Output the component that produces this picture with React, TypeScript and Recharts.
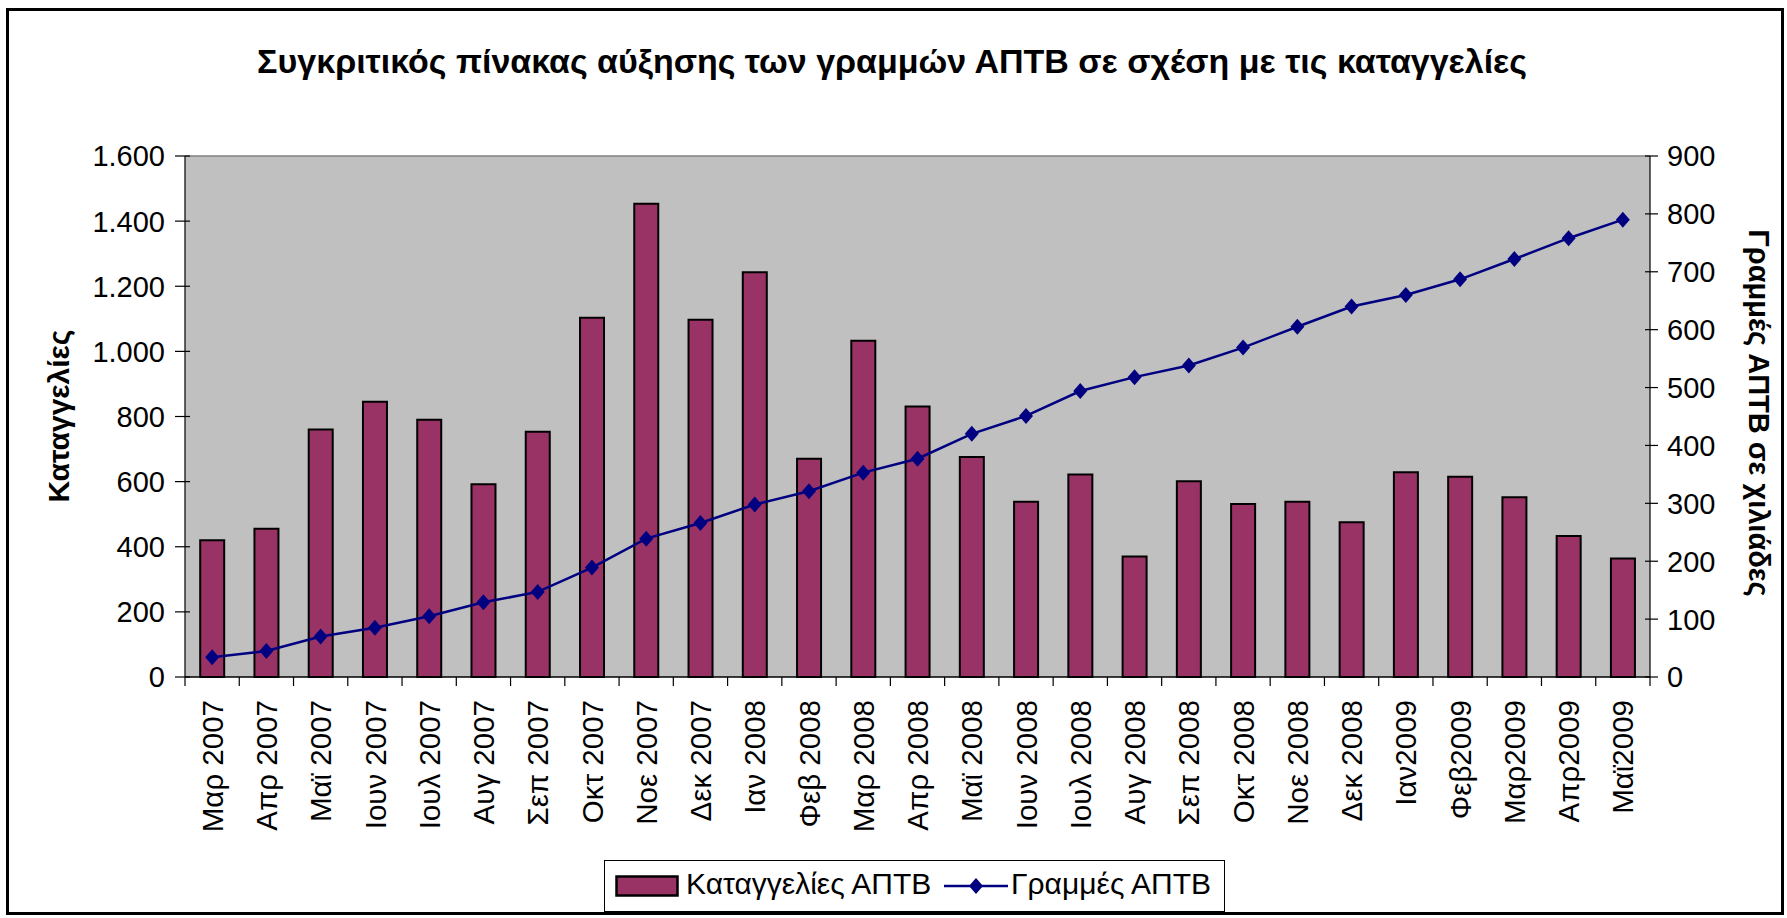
import React from 'react';
import { ComposedChart, Bar, Line, XAxis, YAxis, CartesianGrid, ReferenceLine } from 'recharts';

const months = [
  'Μαρ 2007', 'Απρ 2007', 'Μαϊ 2007', 'Ιουν 2007', 'Ιουλ 2007', 'Αυγ 2007', 'Σεπ 2007',
  'Οκτ 2007', 'Νοε 2007', 'Δεκ 2007', 'Ιαν 2008', 'Φεβ 2008', 'Μαρ 2008', 'Απρ 2008',
  'Μαϊ 2008', 'Ιουν 2008', 'Ιουλ 2008', 'Αυγ 2008', 'Σεπ 2008', 'Οκτ 2008', 'Νοε 2008',
  'Δεκ 2008', 'Ιαν2009', 'Φεβ2009', 'Μαρ2009', 'Απρ2009', 'Μαϊ2009',
];

// Καταγγελίες ΑΠΤΒ (left axis)
const complaints = [
  420, 455, 760, 845, 790, 592, 753, 1103, 1453, 1097, 1243, 670, 1033, 831,
  676, 538, 622, 370, 601, 531, 538, 475, 629, 615, 552, 433, 364,
];

// Γραμμές ΑΠΤΒ σε χιλιάδες (right axis)
const lines = [
  34, 45, 70, 85, 105, 129, 147, 189, 239, 266, 298, 321, 353, 377,
  420, 451, 494, 518, 538, 569, 605, 640, 660, 687, 722, 758, 790,
];

const leftTicks = [0, 200, 400, 600, 800, 1000, 1200, 1400, 1600];
const rightTicks = [0, 100, 200, 300, 400, 500, 600, 700, 800, 900];

const W = 1787;
const H = 918;
const PLOT_L = 185;
const PLOT_R = 1650;
const PLOT_T = 156;
const PLOT_B = 677;
const FONT = '"Liberation Sans", Arial, sans-serif';
const BAR_COLOR = '#993366';
const LINE_COLOR = '#000080';

const data = months.map((m, i) => ({ month: m, complaints: complaints[i], lines: lines[i] }));

const fmtThousands = (v: number) => v.toString().replace(/\B(?=(\d{3})+(?!\d))/g, '.');

const LeftTick = (props: any) => {
  const { y, payload } = props;
  return (
    <g>
      <line x1={PLOT_L - 10} x2={PLOT_L + 5} y1={y} y2={y} stroke="#000" strokeWidth={1.2} />
      <text x={PLOT_L - 20} y={y} dy="0.36em" textAnchor="end" fontSize={29} fontFamily={FONT} fill="#000">
        {fmtThousands(payload.value)}
      </text>
    </g>
  );
};

const RightTick = (props: any) => {
  const { y, payload } = props;
  return (
    <g>
      <line x1={PLOT_R - 5} x2={PLOT_R + 8} y1={y} y2={y} stroke="#000" strokeWidth={1.2} />
      <text x={PLOT_R + 17} y={y} dy="0.36em" textAnchor="start" fontSize={29} fontFamily={FONT} fill="#000">
        {payload.value}
      </text>
    </g>
  );
};

const MonthTick = (props: any) => {
  const { x, payload, index } = props;
  const half = (PLOT_R - PLOT_L) / months.length / 2;
  const ty = PLOT_B + 23;
  return (
    <g>
      <line x1={x - half} x2={x - half} y1={PLOT_B} y2={PLOT_B + 9} stroke="#000" strokeWidth={1.2} />
      {index === months.length - 1 && (
        <line x1={x + half} x2={x + half} y1={PLOT_B} y2={PLOT_B + 9} stroke="#000" strokeWidth={1.2} />
      )}
      <text
        x={x}
        y={ty}
        dy="0.36em"
        textAnchor="end"
        transform={`rotate(-90, ${x}, ${ty})`}
        fontSize={29.5}
        fontFamily={FONT}
        fill="#000"
      >
        {payload.value}
      </text>
    </g>
  );
};

const Diamond = (props: any) => {
  const { cx, cy } = props;
  if (cx == null || cy == null) return null;
  return <path d={`M${cx},${cy - 8} L${cx + 7},${cy} L${cx},${cy + 8} L${cx - 7},${cy} Z`} fill={LINE_COLOR} />;
};

export default function App() {
  return (
    <div style={{ position: 'absolute', left: 0, top: 0, width: W, height: H, background: '#fff', fontFamily: FONT }}>
      <div
        style={{
          position: 'absolute', left: 6, top: 8, width: 1772, height: 901,
          border: '3px solid #000', boxSizing: 'content-box',
        }}
      />
      <div
        style={{
          position: 'absolute', left: 892, top: 61, transform: 'translate(-50%, -50%)',
          whiteSpace: 'nowrap', fontSize: 34, fontWeight: 'bold', color: '#000',
        }}
      >
        Συγκριτικός πίνακας αύξησης των γραμμών ΑΠΤΒ σε σχέση με τις καταγγελίες
      </div>
      <div
        style={{
          position: 'absolute', left: 59, top: 416, transform: 'translate(-50%, -50%) rotate(-90deg)',
          whiteSpace: 'nowrap', fontSize: 30, fontWeight: 'bold', color: '#000',
        }}
      >
        Καταγγελίες
      </div>
      <div
        style={{
          position: 'absolute', left: 1758, top: 413, transform: 'translate(-50%, -50%) rotate(90deg)',
          whiteSpace: 'nowrap', fontSize: 29, fontWeight: 'bold', color: '#000',
        }}
      >
        Γραμμές ΑΠΤΒ σε χιλιάδες
      </div>

      <div style={{ position: 'absolute', left: 0, top: 0 }}>
        <ComposedChart width={W} height={H} data={data} margin={{ top: PLOT_T, right: 0, bottom: 0, left: 0 }} barCategoryGap="28%">
          <CartesianGrid fill="#C0C0C0" horizontal={false} vertical={false} />
          <XAxis
            dataKey="month"
            height={H - PLOT_B}
            interval={0}
            tickSize={0}
            tickMargin={0}
            tick={<MonthTick />}
            axisLine={{ stroke: '#000', strokeWidth: 1.5 }}
          />
          <YAxis
            yAxisId="left"
            orientation="left"
            width={PLOT_L}
            domain={[0, 1600]}
            ticks={leftTicks}
            interval={0}
            tickLine={false}
            tick={<LeftTick />}
            axisLine={{ stroke: '#000', strokeWidth: 1.2 }}
          />
          <YAxis
            yAxisId="right"
            orientation="right"
            width={W - PLOT_R}
            domain={[0, 900]}
            ticks={rightTicks}
            interval={0}
            tickLine={false}
            tick={<RightTick />}
            axisLine={{ stroke: '#000', strokeWidth: 1.2 }}
          />
          <ReferenceLine yAxisId="left" y={1600} stroke="#808080" strokeWidth={1.5} />
          <Bar
            yAxisId="left"
            dataKey="complaints"
            name="Καταγγελίες ΑΠΤΒ"
            fill={BAR_COLOR}
            stroke="#000"
            strokeWidth={2}
            isAnimationActive={false}
          />
          <Line
            yAxisId="right"
            type="linear"
            dataKey="lines"
            name="Γραμμές ΑΠΤΒ"
            stroke={LINE_COLOR}
            strokeWidth={2.5}
            dot={<Diamond />}
            activeDot={false}
            isAnimationActive={false}
          />
        </ComposedChart>
      </div>

      <div
        style={{
          position: 'absolute', left: 604, top: 860, width: 619, height: 50,
          border: '1.5px solid #000', background: '#fff',
          fontSize: 30, color: '#000', whiteSpace: 'nowrap',
        }}
      >
        <svg width={64} height={22} style={{ position: 'absolute', left: 10, top: 14 }}>
          <rect x={1.5} y={1.5} width={61} height={19} fill={BAR_COLOR} stroke="#000" strokeWidth={2.5} />
        </svg>
        <span style={{ position: 'absolute', left: 81, top: 6 }}>Καταγγελίες ΑΠΤΒ</span>
        <svg width={64} height={22} style={{ position: 'absolute', left: 339, top: 14 }}>
          <line x1={0} x2={64} y1={11} y2={11} stroke={LINE_COLOR} strokeWidth={2.5} />
          <path d="M32,3 L39,11 L32,19 L25,11 Z" fill={LINE_COLOR} />
        </svg>
        <span style={{ position: 'absolute', left: 406, top: 6 }}>Γραμμές ΑΠΤΒ</span>
      </div>
    </div>
  );
}
